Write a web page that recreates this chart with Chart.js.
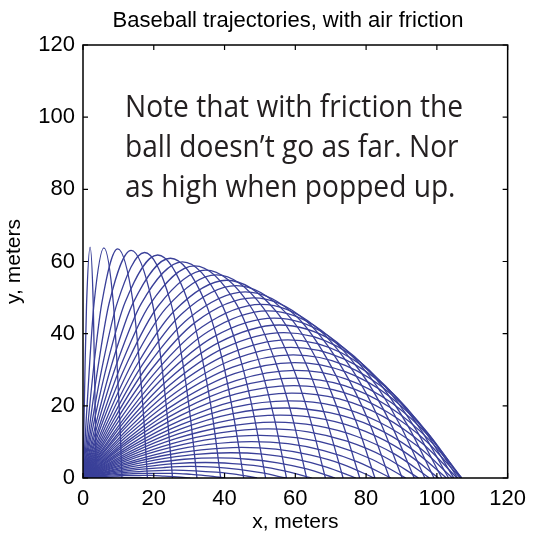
<!DOCTYPE html>
<html><head><meta charset="utf-8">
<script src="https://cdn.jsdelivr.net/npm/chart.js@4.4.1/dist/chart.umd.min.js"></script>
<style>html,body{margin:0;background:#fff}#wrap{width:534px;height:535px}</style>
</head><body><div id="wrap"><canvas id="chart" width="534" height="535"></canvas></div>
<script>
// ----- Data: one trajectory per launch angle (degrees) -----
const angles = [1, 3, 5, 7, 9, 11, 13, 15, 17, 19, 21, 23, 25, 27, 29, 31, 33, 35, 37, 39, 41, 43, 45,
  47, 49, 51, 53, 55, 57, 59, 61, 63, 65, 67, 69, 71, 73, 75, 77, 79, 81, 83, 85, 87, 89];

// where each ball lands (m)
const landX = [6.8, 19.2, 30.3, 40.2, 49.2, 57.3, 64.6, 71.2, 77.1, 82.3, 87.0, 91.2, 94.8, 97.9, 100.5,
  102.7, 104.4, 105.7, 106.6, 107.0, 107.0, 106.7, 105.9, 104.8, 103.3, 101.4, 99.2, 96.6, 93.6, 90.2,
  86.6, 82.5, 78.2, 73.5, 68.5, 63.2, 57.5, 51.6, 45.4, 38.9, 32.2, 25.3, 18.2, 11.0, 3.7];

// top of each arc (m)
const apexX = [3.4, 9.8, 15.6, 21.0, 25.9, 30.4, 34.6, 38.3, 41.7, 44.8, 47.6, 50.1, 52.3, 54.2, 55.8,
  57.1, 58.2, 59.0, 59.6, 59.9, 60.0, 59.8, 59.4, 58.8, 57.9, 56.8, 55.5, 54.0, 52.2, 50.3,
  48.1, 45.8, 43.3, 40.6, 37.7, 34.7, 31.5, 28.1, 24.7, 21.1, 17.4, 13.6, 9.8, 5.9, 2.0];
const apexY = [0.0, 0.3, 0.7, 1.3, 2.2, 3.2, 4.3, 5.6, 7.0, 8.5, 10.1, 11.8, 13.6, 15.5, 17.4,
  19.4, 21.4, 23.5, 25.6, 27.7, 29.8, 32.0, 34.1, 36.2, 38.3, 40.3, 42.4, 44.3, 46.3, 48.1,
  49.9, 51.6, 53.3, 54.8, 56.3, 57.6, 58.8, 59.9, 60.9, 61.8, 62.5, 63.1, 63.5, 63.8, 64.0];

// three points on the way up
const riseX = [[0.9, 1.7, 2.6], [2.4, 4.9, 7.3], [3.9, 7.8, 11.7], [5.2, 10.5, 15.7], [6.4, 12.9, 19.4],
  [7.5, 15.1, 22.8], [8.5, 17.2, 25.8], [9.4, 19.0, 28.6], [10.2, 20.6, 31.1], [10.9, 22.1, 33.4],
  [11.5, 23.4, 35.4], [12.1, 24.5, 37.2], [12.5, 25.4, 38.7], [12.9, 26.2, 40.0], [13.2, 26.9, 41.1],
  [13.4, 27.3, 42.0], [13.5, 27.7, 42.6], [13.5, 27.9, 43.1], [13.5, 27.9, 43.3], [13.4, 27.8, 43.3],
  [13.3, 27.6, 43.2], [13.1, 27.3, 42.8], [12.8, 26.8, 42.3], [12.5, 26.2, 41.6], [12.2, 25.5, 40.7],
  [11.7, 24.7, 39.6], [11.3, 23.8, 38.3], [10.8, 22.8, 36.9], [10.3, 21.8, 35.4], [9.7, 20.6, 33.7],
  [9.1, 19.4, 31.8], [8.5, 18.1, 29.9], [7.9, 16.8, 27.8], [7.2, 15.5, 25.7], [6.6, 14.1, 23.4],
  [5.9, 12.7, 21.2], [5.3, 11.3, 18.9], [4.6, 9.9, 16.5], [4.0, 8.5, 14.2], [3.3, 7.1, 11.9],
  [2.7, 5.8, 9.7], [2.1, 4.5, 7.4], [1.5, 3.2, 5.3], [0.9, 1.9, 3.1], [0.3, 0.6, 1.0]];
const riseY = [[0, 0, 0], [0.1, 0.2, 0.2], [0.3, 0.5, 0.7], [0.6, 1.0, 1.3], [0.9, 1.6, 2.0],
  [1.3, 2.3, 2.9], [1.8, 3.1, 4.0], [2.3, 4.0, 5.2], [2.8, 5.0, 6.5], [3.4, 6.1, 7.8],
  [4.0, 7.2, 9.3], [4.7, 8.4, 10.9], [5.3, 9.6, 12.5], [6.0, 10.9, 14.2], [6.7, 12.2, 16.0],
  [7.4, 13.5, 17.8], [8.1, 14.8, 19.6], [8.7, 16.1, 21.4], [9.4, 17.5, 23.3], [10.1, 18.8, 25.2],
  [10.7, 20.1, 27.0], [11.3, 21.3, 28.9], [11.9, 22.6, 30.7], [12.5, 23.7, 32.5], [13.1, 24.9, 34.2],
  [13.6, 25.9, 35.9], [14.0, 27.0, 37.5], [14.5, 27.9, 39.1], [14.8, 28.8, 40.6], [15.2, 29.5, 41.9],
  [15.5, 30.2, 43.2], [15.8, 30.9, 44.3], [16.0, 31.4, 45.4], [16.1, 31.8, 46.2], [16.3, 32.2, 47.0],
  [16.4, 32.4, 47.6], [16.4, 32.6, 48.1], [16.4, 32.7, 48.4], [16.4, 32.7, 48.6], [16.4, 32.6, 48.7],
  [16.3, 32.6, 48.6], [16.2, 32.4, 48.5], [16.1, 32.3, 48.4], [16.1, 32.1, 48.2], [16.0, 32.0, 48.0]];

// three points on the way down
const fallX = [[4.3, 5.1, 5.9], [12.1, 14.5, 16.8], [19.3, 23.0, 26.6], [25.8, 30.6, 35.4], [31.8, 37.6, 43.4],
  [37.2, 44.0, 50.7], [42.2, 49.7, 57.2], [46.7, 55.0, 63.2], [50.8, 59.8, 68.6], [54.5, 64.1, 73.4],
  [57.9, 68.0, 77.8], [60.9, 71.5, 81.6], [63.6, 74.6, 85.1], [65.9, 77.4, 88.1], [68.0, 79.8, 90.7],
  [69.7, 81.8, 92.9], [71.2, 83.5, 94.7], [72.4, 84.9, 96.1], [73.3, 86.0, 97.1], [73.9, 86.7, 97.7],
  [74.2, 87.1, 98.0], [74.3, 87.2, 97.9], [74.1, 87.0, 97.4], [73.7, 86.4, 96.6], [73.0, 85.5, 95.4],
  [72.0, 84.3, 93.8], [70.7, 82.8, 91.9], [69.2, 80.9, 89.6], [67.4, 78.7, 87.0], [65.4, 76.2, 84.1],
  [63.1, 73.3, 80.8], [60.5, 70.1, 77.1], [57.6, 66.7, 73.1], [54.4, 62.9, 68.8], [51.0, 58.7, 64.2],
  [47.3, 54.3, 59.3], [43.4, 49.6, 54.1], [39.1, 44.6, 48.5], [34.6, 39.4, 42.7], [29.8, 33.8, 36.7],
  [24.8, 28.1, 30.4], [19.6, 22.1, 23.9], [14.2, 15.9, 17.2], [8.6, 9.6, 10.4], [2.9, 3.2, 3.5]];
const fallY = [[0, 0, 0], [0.2, 0.2, 0.1], [0.7, 0.5, 0.3], [1.3, 1.0, 0.6], [2.0, 1.6, 1.0],
  [3.0, 2.4, 1.4], [4.0, 3.3, 1.9], [5.2, 4.2, 2.5], [6.6, 5.3, 3.1], [8.0, 6.4, 3.8],
  [9.5, 7.6, 4.4], [11.1, 8.9, 5.2], [12.8, 10.2, 5.9], [14.5, 11.5, 6.6], [16.3, 12.9, 7.3],
  [18.1, 14.3, 8.0], [20.0, 15.6, 8.7], [21.9, 17.0, 9.4], [23.8, 18.3, 10.1], [25.6, 19.6, 10.7],
  [27.5, 20.9, 11.3], [29.4, 22.2, 11.9], [31.2, 23.3, 12.5], [33.0, 24.5, 13.0], [34.7, 25.5, 13.5],
  [36.4, 26.5, 13.9], [38.0, 27.5, 14.3], [39.5, 28.3, 14.7], [40.9, 29.1, 15.0], [42.2, 29.8, 15.3],
  [43.5, 30.4, 15.6], [44.6, 31.0, 15.8], [45.5, 31.5, 16.0], [46.4, 31.9, 16.1], [47.1, 32.2, 16.3],
  [47.6, 32.4, 16.3], [48.1, 32.6, 16.4], [48.4, 32.6, 16.4], [48.6, 32.7, 16.4], [48.6, 32.6, 16.4],
  [48.6, 32.5, 16.3], [48.5, 32.4, 16.2], [48.4, 32.3, 16.1], [48.2, 32.1, 16.1], [48.0, 32.0, 16.0]];

const xTicks = [0, 20, 40, 60, 80, 100, 120];
const yTicks = [0, 20, 40, 60, 80, 100, 120];
const noteLines = ['Note that with friction the', 'ball doesn\u2019t go as far. Nor', 'as high when popped up.'];

// ----- Styles -----
const lineColor = '#3a4099';
const axisFont = 'Liberation Sans, Arial, Helvetica, sans-serif';

const datasets = angles.map((a, i) => ({
  label: a + '\u00b0',
  data: [{ x: 0, y: 0 },
    ...riseX[i].map((x, j) => ({ x, y: riseY[i][j] })),
    { x: apexX[i], y: apexY[i] },
    ...fallX[i].map((x, j) => ({ x, y: fallY[i][j] })),
    { x: landX[i], y: 0 }],
  showLine: true,
  pointRadius: 0,
  borderColor: lineColor,
  borderWidth: 1.3,
  cubicInterpolationMode: 'monotone'
}));

// frame, inward ticks, title and note
const framePlugin = {
  id: 'frame',
  afterDraw(chart) {
    const { ctx, chartArea: a, scales: { x, y } } = chart;
    ctx.save();
    ctx.strokeStyle = '#000';
    ctx.lineWidth = 1.5;
    ctx.strokeRect(a.left, a.top, a.right - a.left, a.bottom - a.top);
    ctx.lineWidth = 1.2;
    ctx.beginPath();
    xTicks.forEach(v => {
      const px = x.getPixelForValue(v);
      ctx.moveTo(px, a.bottom); ctx.lineTo(px, a.bottom - 5);
      ctx.moveTo(px, a.top); ctx.lineTo(px, a.top + 5);
    });
    yTicks.forEach(v => {
      const py = y.getPixelForValue(v);
      ctx.moveTo(a.left, py); ctx.lineTo(a.left + 5, py);
      ctx.moveTo(a.right, py); ctx.lineTo(a.right - 5, py);
    });
    ctx.stroke();

    ctx.fillStyle = '#000';
    ctx.font = '22px ' + axisFont;
    ctx.textAlign = 'center';
    ctx.textBaseline = 'middle';
    ctx.fillText('Baseball trajectories, with air friction', 288, 21);

    ctx.fillStyle = '#231f20';
    ctx.font = '31px "Open Sans", "Noto Sans", sans-serif';
    ctx.textAlign = 'left';
    ctx.textBaseline = 'alphabetic';
    const sx = 338 / ctx.measureText(noteLines[0]).width;
    noteLines.forEach((t, i) => {
      ctx.save();
      ctx.translate(125, 117 + i * 40);
      ctx.scale(sx, 1);
      ctx.fillText(t, 0, 0);
      ctx.restore();
    });
    ctx.restore();
  }
};

new Chart(document.getElementById('chart'), {
  type: 'scatter',
  data: { datasets },
  options: {
    responsive: false,
    animation: false,
    layout: { padding: { left: 0, top: 45, right: 19, bottom: 0 } },
    plugins: { legend: { display: false }, tooltip: { enabled: false } },
    scales: {
      x: {
        min: 0, max: 120,
        afterBuildTicks: s => { s.ticks = xTicks.map(v => ({ value: v })); },
        afterFit: s => { s.height = 57; },
        grid: { display: false, drawTicks: false },
        border: { display: false },
        ticks: { color: '#000', font: { family: axisFont, size: 22 }, padding: 8, maxRotation: 0 },
        title: { display: true, text: 'x, meters', color: '#000', font: { family: axisFont, size: 21 }, padding: { top: 0, bottom: 0 } }
      },
      y: {
        min: 0, max: 120,
        afterBuildTicks: s => { s.ticks = yTicks.map(v => ({ value: v })); },
        afterFit: s => { s.width = 83; },
        grid: { display: false, drawTicks: false },
        border: { display: false },
        ticks: { color: '#000', font: { family: axisFont, size: 22 }, padding: 8 },
        title: { display: true, text: 'y, meters', color: '#000', font: { family: axisFont, size: 21 }, padding: { top: 2, bottom: 0 } }
      }
    }
  },
  plugins: [framePlugin]
});
</script></body></html>
